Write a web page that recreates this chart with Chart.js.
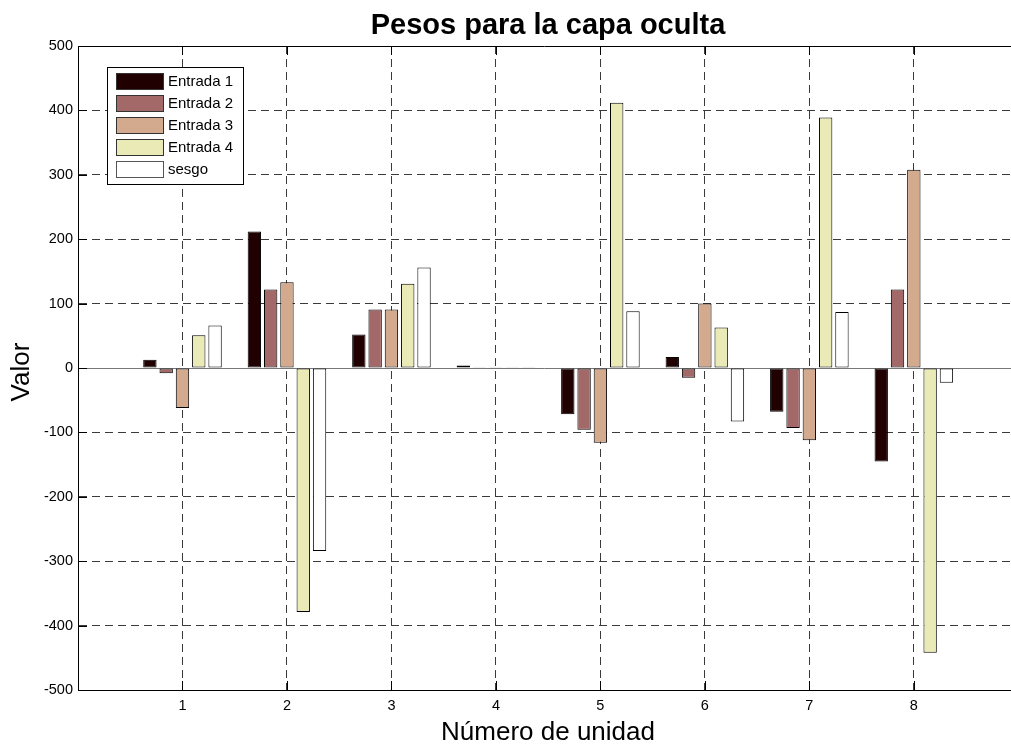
<!DOCTYPE html>
<html>
<head>
<meta charset="utf-8">
<script src="https://cdn.jsdelivr.net/npm/chart.js@4/dist/chart.umd.min.js"></script>
<style>
  html, body { margin: 0; padding: 0; background: #fff; }
  #wrap { width: 1011px; height: 746px; }
</style>
</head>
<body>
<div id="wrap"><canvas id="chart"></canvas></div>
<script>
// unidades (eje x) y pesos de cada entrada
const units = [1, 2, 3, 4, 5, 6, 7, 8];
const seriesNames = ['Entrada 1', 'Entrada 2', 'Entrada 3', 'Entrada 4', 'sesgo'];
const entrada1 = [13, 212, 52, 4, -72, 17, -68, -145];
const entrada2 = [-8, 122, 91, 1, -96, -15, -93, 122];
const entrada3 = [-62, 133, 91, 1, -116, 100, -112, 308];
const entrada4 = [51, -379, 131, 1, 412, 63, 389, -442];
const sesgo = [66, -284, 156, 1, 88, -83, 87, -23];
const yTicks = [-500, -400, -300, -200, -100, 0, 100, 200, 300, 400, 500];

const colors = ['#200000', '#a36868', '#d4aa8f', '#eaeab6', '#ffffff'];
const allValues = [entrada1, entrada2, entrada3, entrada4, sesgo];

const FONT = '"Liberation Sans", Arial, Helvetica, sans-serif';

const datasets = allValues.map((vals, i) => ({
    label: seriesNames[i],
    data: units.map((u, k) => ({ x: u, y: vals[k] })),
    backgroundColor: colors[i],
    borderColor: '#000',
    borderWidth: 1,
    borderSkipped: false,
    categoryPercentage: 0.78,
    barPercentage: 0.82
}));

// titulo, etiquetas de ejes, marcas interiores, linea base y leyenda
const decoPlugin = {
    id: 'deco',
    beforeDatasetsDraw(chart) {
        const { ctx, chartArea, scales } = chart;
        const y0 = Math.round(scales.y.getPixelForValue(0)) + 0.5;
        ctx.save();
        ctx.strokeStyle = '#777';
        ctx.lineWidth = 1;
        ctx.beginPath();
        ctx.moveTo(chartArea.left, y0);
        ctx.lineTo(chartArea.right, y0);
        ctx.stroke();
        ctx.restore();
    },
    afterDatasetsDraw(chart) {
        const { ctx } = chart;
        // leyenda
        ctx.save();
        ctx.fillStyle = '#fff';
        ctx.fillRect(107, 67, 136, 117);
        ctx.strokeStyle = '#000';
        ctx.lineWidth = 1;
        ctx.strokeRect(107.5, 67.5, 136, 117);
        ctx.font = '15px ' + FONT;
        ctx.textBaseline = 'middle';
        ctx.textAlign = 'left';
        chart.data.datasets.forEach((ds, i) => {
            const cy = 81 + i * 22;
            ctx.fillStyle = ds.backgroundColor;
            ctx.fillRect(116, cy - 8, 47, 16);
            ctx.strokeStyle = i === 4 ? '#555' : '#333';
            ctx.strokeRect(116.5, cy - 8 + 0.5, 47, 16);
            ctx.fillStyle = '#000';
            ctx.fillText(ds.label, 168, cy + 1);
        });
        ctx.restore();
    },
    afterDraw(chart) {
        const { ctx, chartArea, scales } = chart;
        ctx.save();
        ctx.strokeStyle = '#000';
        ctx.lineWidth = 1;
        // borde superior
        ctx.beginPath();
        ctx.moveTo(chartArea.left, chartArea.top + 0.5);
        ctx.lineTo(chartArea.right, chartArea.top + 0.5);
        ctx.stroke();
        // marcas interiores
        ctx.beginPath();
        units.forEach(u => {
            const px = Math.round(scales.x.getPixelForValue(u)) + 0.5;
            ctx.moveTo(px, chartArea.bottom);
            ctx.lineTo(px, chartArea.bottom - 9);
            ctx.moveTo(px, chartArea.top);
            ctx.lineTo(px, chartArea.top + 9);
        });
        yTicks.forEach(v => {
            const py = Math.round(scales.y.getPixelForValue(v)) + 0.5;
            ctx.moveTo(chartArea.left, py);
            ctx.lineTo(chartArea.left + 9, py);
        });
        ctx.stroke();

        ctx.fillStyle = '#000';
        ctx.textAlign = 'center';
        ctx.textBaseline = 'alphabetic';
        ctx.font = 'bold 29px ' + FONT;
        ctx.fillText('Pesos para la capa oculta', 548, 34);
        ctx.font = '26px ' + FONT;
        ctx.fillText('Número de unidad', 548, 740);
        ctx.translate(22, 372);
        ctx.rotate(-Math.PI / 2);
        ctx.textBaseline = 'middle';
        ctx.fillText('Valor', 0, 0);
        ctx.restore();
    }
};

new Chart(document.getElementById('chart'), {
    type: 'bar',
    data: { datasets },
    options: {
        responsive: true,
        maintainAspectRatio: false,
        animation: false,
        layout: { padding: { top: 46, left: 0, right: 0, bottom: 0 } },
        plugins: {
            legend: { display: false },
            tooltip: { enabled: false },
            title: { display: false }
        },
        scales: {
            x: {
                type: 'linear',
                min: 0,
                max: 8.93,
                offset: false,
                afterFit(scale) { scale.height = 56; },
                ticks: {
                    stepSize: 1,
                    includeBounds: false,
                    autoSkip: false,
                    maxRotation: 0,
                    padding: 7,
                    color: '#000',
                    font: { family: FONT, size: 14.5 },
                    callback: v => (units.includes(v) ? String(v) : '')
                },
                grid: {
                    offset: false,
                    drawTicks: false,
                    lineWidth: 1,
                    color: ctx => (ctx.tick && units.includes(ctx.tick.value) ? '#3a3a3a' : 'rgba(0,0,0,0)'),
                    borderDash: [8, 5]
                },
                border: { display: true, color: '#000', width: 1, dash: [8, 5] }
            },
            y: {
                min: -500,
                max: 500,
                afterFit(scale) { scale.width = 78; },
                afterBuildTicks(scale) { scale.ticks = yTicks.map(v => ({ value: v })); },
                ticks: {
                    padding: 5,
                    color: '#000',
                    font: { family: FONT, size: 14.5 },
                    callback: v => String(v)
                },
                grid: {
                    drawTicks: false,
                    lineWidth: 1,
                    color: ctx => (ctx.tick && Math.abs(ctx.tick.value) < 500 ? '#3a3a3a' : 'rgba(0,0,0,0)'),
                    borderDash: [8, 5]
                },
                border: { display: true, color: '#000', width: 1, dash: [8, 5] }
            }
        }
    },
    plugins: [decoPlugin]
});
</script>
</body>
</html>
